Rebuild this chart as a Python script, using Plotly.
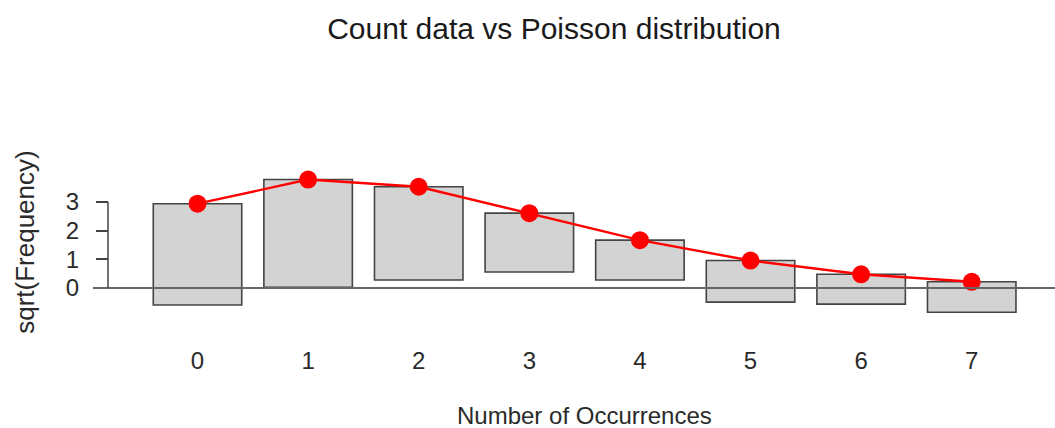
import plotly.graph_objects as go

# Hanging rootogram data (sqrt scale)
occurrences = [0, 1, 2, 3, 4, 5, 6, 7]
sqrt_expected = [2.94, 3.78, 3.53, 2.61, 1.67, 0.96, 0.48, 0.22]
sqrt_observed = [3.53, 3.75, 3.25, 2.05, 1.39, 1.45, 1.04, 1.06]
y_ticks = [0, 1, 2, 3]

bar_base = [e - o for e, o in zip(sqrt_expected, sqrt_observed)]

W, H = 1055, 428
ML, MR, MT, MB = 93, 0, 150, 98
PW = W - ML - MR
PH = H - MT - MB

fig = go.Figure()
fig.add_trace(go.Bar(
    x=occurrences, y=sqrt_observed, base=bar_base, width=0.8,
    marker=dict(color="#d3d3d3", line=dict(color="#444444", width=1.6)),
    hoverinfo="skip", showlegend=False,
))
fig.add_trace(go.Scatter(
    x=occurrences, y=sqrt_expected, mode="lines+markers",
    line=dict(color="#ff0000", width=2.4),
    marker=dict(color="#ff0000", size=18),
    showlegend=False,
))

font = "Liberation Sans, Arial, sans-serif"
fig.update_layout(
    width=W, height=H,
    margin=dict(l=ML, r=MR, t=MT, b=MB, autoexpand=False),
    plot_bgcolor="white", paper_bgcolor="white",
    font=dict(family=font, size=24, color="#2a2a2a"),
    title=dict(text="Count data vs Poisson distribution", x=554 / W, xanchor="center",
               y=1 - 28 / H, yanchor="middle", font=dict(size=30, color="#1a1a1a")),
    xaxis=dict(range=[-0.945, 7.753], tickmode="array", tickvals=occurrences,
               ticktext=[str(v) for v in occurrences], showgrid=False, zeroline=False,
               showline=False, ticks="", ticklabelstandoff=14, fixedrange=True),
    yaxis=dict(range=[-1.46, 4.81], tickmode="array", tickvals=y_ticks,
               ticktext=[str(v) for v in y_ticks], showgrid=False, zeroline=False,
               showline=False, ticks="outside", ticklen=12, tickwidth=1.5,
               tickcolor="#444444", anchor="free", position=15 / PW,
               ticklabelstandoff=12, fixedrange=True),
    bargap=0.2,
)

# zero reference line across the plot and the y-axis line spanning the ticks
fig.add_shape(type="line", xref="paper", yref="y", x0=0, x1=1, y0=0, y1=0,
              line=dict(color="#666666", width=2), layer="above")
fig.add_shape(type="line", xref="paper", yref="y", x0=15 / PW, x1=15 / PW,
              y0=y_ticks[0], y1=y_ticks[-1], line=dict(color="#444444", width=1.5))

fig.add_annotation(text="sqrt(Frequency)", xref="paper", yref="paper",
                   x=(25 - ML) / PW, y=0.49, textangle=-90, showarrow=False,
                   xanchor="center", yanchor="middle", font=dict(size=26, color="#2a2a2a"))
fig.add_annotation(text="Number of Occurrences", xref="paper", yref="paper",
                   x=(584 - ML) / PW, y=-(415 - (MT + PH)) / PH, showarrow=False,
                   xanchor="center", yanchor="middle", font=dict(size=24, color="#2a2a2a"))

fig.write_html("out.html")
